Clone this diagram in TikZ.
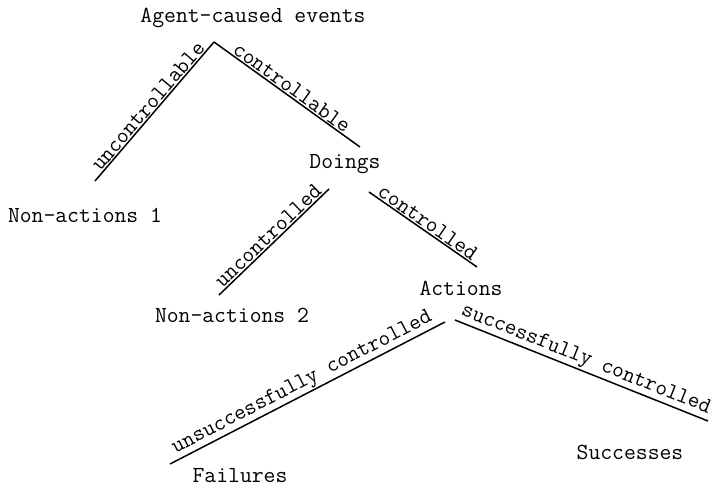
\documentclass[tikz,border=0pt]{standalone}
\usepackage{fontspec}
\begin{document}
\begin{tikzpicture}[x=1pt,y=-1pt,
  word/.style={font=\ttfamily\fontsize{23}{26}\selectfont, inner sep=0pt},
  branch/.style={line width=1.5pt},
  tag/.style={font=\ttfamily\fontsize{22.5}{26}\selectfont, sloped, above, inner sep=1pt, midway}]
  \useasboundingbox (0,0) rectangle (714,487);

  % Agent-caused events
  \node[word] (agent) at (253,18) {Agent-caused events};
  \coordinate (apex) at (214,42);

  % uncontrollable -- controllable
  \coordinate (nonend) at (95,181);
  \coordinate (doend) at (360,147);
  \draw[branch] (nonend) -- (apex) node[tag] {uncontrollable};
  \draw[branch] (apex) -- (doend) node[tag] {controllable};
  \node[word] (non1) at (85,215) {Non-actions 1};
  \node[word] (doings) at (345,164) {Doings};

  % uncontrolled -- controlled
  \coordinate (unl) at (219,295);
  \coordinate (unr) at (329,189);
  \coordinate (col) at (369,192);
  \coordinate (cor) at (477,267);
  \draw[branch] (unl) -- (unr) node[tag] {uncontrolled};
  \draw[branch] (col) -- (cor) node[tag] {controlled};
  \node[word] (non2) at (232,315) {Non-actions 2};
  \node[word] (actions) at (461,288) {Actions};

  % unsuccessfully -- successfully
  \coordinate (fail) at (170,464);
  \coordinate (failtop) at (445,322);
  \coordinate (succtop) at (455,320);
  \coordinate (succ) at (708,421);
  \draw[branch] (fail) -- (failtop) node[tag] {unsuccessfully controlled};
  \draw[branch] (succtop) -- (succ) node[tag] {successfully controlled};
  \node[word] (failures) at (240,476) {Failures};
  \node[word] (successes) at (630,452) {Successes};
\end{tikzpicture}
\end{document}
